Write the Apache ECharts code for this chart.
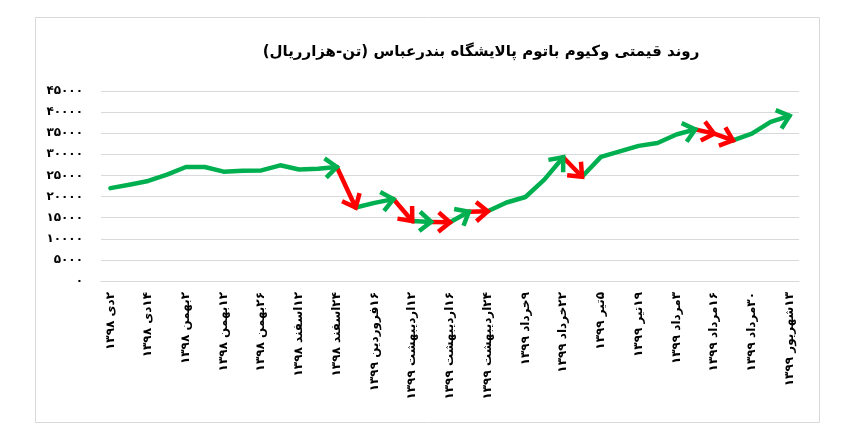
<!DOCTYPE html>
<html>
<head>
<meta charset="utf-8">
<script src="https://cdn.jsdelivr.net/npm/echarts@6/dist/echarts.min.js"></script>
<style>
html,body{margin:0;padding:0;background:#fff;}
#chart{width:843px;height:443px;}
</style>
</head>
<body>
<div id="chart"></div>
<script>
const titleText = 'روند قیمتی وکیوم باتوم پالایشگاه بندرعباس (تن-هزارریال)';
// labels shown every other point
const dateLabels = [
  '۲دی ۱۳۹۸','۱۴دی ۱۳۹۸','۲بهمن ۱۳۹۸','۱۲بهمن ۱۳۹۸','۲۶بهمن ۱۳۹۸','۱۲اسفند ۱۳۹۸','۲۴اسفند ۱۳۹۸',
  '۱۶فروردین ۱۳۹۹','۱۲اردیبهشت ۱۳۹۹','۱۶اردیبهشت ۱۳۹۹','۲۴اردیبهشت ۱۳۹۹','۹خرداد ۱۳۹۹','۲۲خرداد ۱۳۹۹',
  '۵تیر ۱۳۹۹','۱۹تیر ۱۳۹۹','۳مرداد ۱۳۹۹','۱۶مرداد ۱۳۹۹','۳۰مرداد ۱۳۹۹','۱۳شهریور ۱۳۹۹'
];
const prices = [
  22000, 22800, 23700, 25200, 27000, 27000, 25900, 26100, 26200, 27400,
  26400, 26600, 27000, 17400, 18500, 19400, 14200, 14000, 13900, 16400,
  16500, 18600, 19900, 24000, 29300, 24700, 29400, 30700, 32000, 32700,
  34700, 35900, 34900, 33300, 34900, 37700, 39100
];
// index where each coloured arrow run ends, and its colour
const runEnds = [12, 13, 15, 16, 17, 18, 19, 20, 24, 25, 31, 32, 33, 36];
const runColors = ['up','down','up','down','up','down','up','down','up','down','up','down','down','up'];
const yTicks = { min: 0, max: 45000, interval: 5000 };

const COLORS = { up: '#00B050', down: '#FF0000' };
const fa = s => String(s).replace(/\d/g, d => '۰۱۲۳۴۵۶۷۸۹'[+d]);
const rtl = s => '\u202B' + s + '\u202C';

const categories = prices.map((_, i) => (i % 2 === 0 ? dateLabels[i / 2] : ''));

const series = [];
const arrows = [];
runEnds.forEach((end, k) => {
  const start = k === 0 ? 0 : runEnds[k - 1];
  const col = COLORS[runColors[k]];
  series.push({
    type: 'line',
    data: prices.map((v, i) => (i >= start && i <= end ? v : null)),
    showSymbol: false,
    symbol: 'none',
    connectNulls: false,
    lineStyle: { color: col, width: 4.5, cap: 'round', join: 'round' },
    itemStyle: { color: col },
    silent: true,
    z: 2 + k * 0.01
  });
  arrows.push([end, prices[end], end - 1, prices[end - 1], runColors[k]]);
});

series.push({
  type: 'custom',
  data: arrows,
  silent: true,
  z: 5,
  renderItem: function (params, api) {
    const p1 = api.coord([api.value(0), api.value(1)]);
    const p0 = api.coord([api.value(2), api.value(3)]);
    const a = Math.atan2(p1[1] - p0[1], p1[0] - p0[0]);
    const L = 15, th = 40 * Math.PI / 180;
    const arm1 = [p1[0] - L * Math.cos(a - th), p1[1] - L * Math.sin(a - th)];
    const arm2 = [p1[0] - L * Math.cos(a + th), p1[1] - L * Math.sin(a + th)];
    const col = COLORS[arrows[params.dataIndex][4]];
    return {
      type: 'polyline',
      shape: { points: [arm1, p1, arm2] },
      style: { stroke: col, lineWidth: 4.5, fill: null, lineJoin: 'miter', lineCap: 'butt' }
    };
  }
});

const chart = echarts.init(document.getElementById('chart'), null, { renderer: 'canvas' });
chart.setOption({
  animation: false,
  backgroundColor: '#ffffff',
  title: {
    text: rtl(titleText),
    left: 476,
    top: 40,
    textAlign: 'center',
    textStyle: { fontFamily: 'DejaVu Sans', fontWeight: 'bold', fontSize: 15, color: '#000' }
  },
  graphic: [{
    type: 'rect',
    shape: { x: 35.5, y: 17.5, width: 784, height: 405 },
    style: { fill: null, stroke: '#d9d9d9', lineWidth: 1 },
    silent: true
  }],
  grid: { left: 101, right: 44, top: 91, bottom: 162, containLabel: false },
  xAxis: {
    type: 'category',
    data: categories,
    boundaryGap: true,
    axisLine: { show: true, lineStyle: { color: '#d9d9d9', width: 1 } },
    axisTick: { show: false },
    splitLine: { show: false },
    axisLabel: {
      interval: 0,
      rotate: 90,
      margin: 11,
      color: '#000',
      fontFamily: 'DejaVu Sans',
      fontWeight: 'bold',
      fontSize: 12,
      formatter: v => (v ? rtl(v) : '')
    }
  },
  yAxis: {
    type: 'value',
    min: yTicks.min,
    max: yTicks.max,
    interval: yTicks.interval,
    axisLine: { show: false },
    axisTick: { show: false },
    splitLine: { lineStyle: { color: '#d9d9d9', width: 1 } },
    axisLabel: {
      margin: 18,
      color: '#000',
      fontFamily: 'DejaVu Sans',
      fontWeight: 'bold',
      fontSize: 12,
      formatter: v => fa(v)
    }
  },
  series: series
});
</script>
</body>
</html>
